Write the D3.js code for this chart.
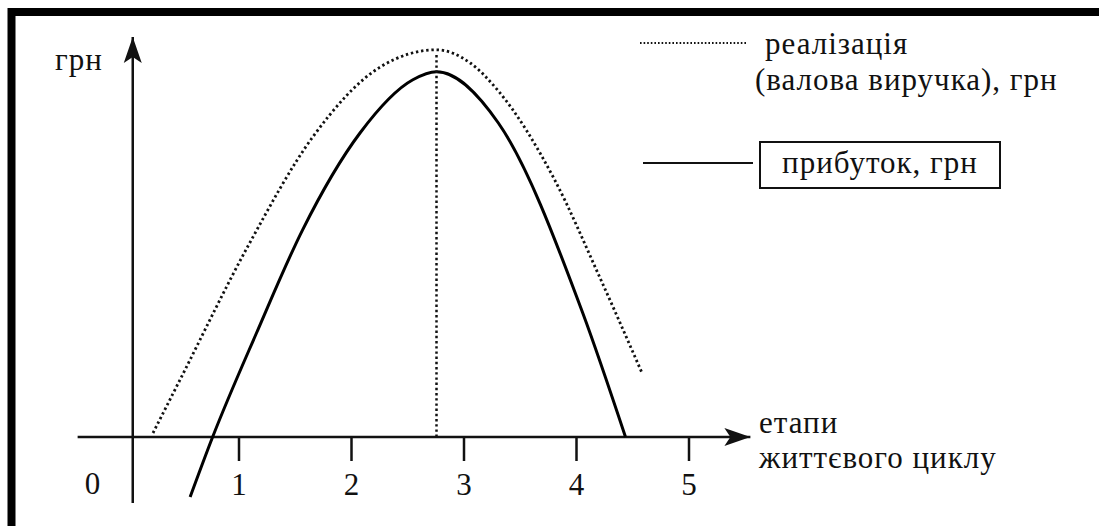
<!DOCTYPE html>
<html>
<head>
<meta charset="utf-8">
<script src="https://cdn.jsdelivr.net/npm/d3@7"></script>
<style>
  html, body { margin: 0; padding: 0; background: #fff; overflow: hidden; }
</style>
</head>
<body>
<div id="chart"></div>
<script>
// Stage of life cycle (x) vs. hryvnias (y, arbitrary units)
const stageTicks = [1, 2, 3, 4, 5];

// profit curve (solid)
const profitStage = [0.57, 0.77, 1.16, 1.57, 2.08, 2.55, 2.76, 3.31, 4.06, 4.44];
const profitValue = [-15, 0, 26, 51.8, 76, 89.3, 91.3, 78.5, 31, 0];

// sales / gross revenue curve (dotted)
const revenueStage = [0.24, 0.48, 1.08, 1.66, 2.26, 2.76, 3.06, 3.31, 3.81, 4.21, 4.59];
const revenueValue = [1, 14.3, 47.5, 75, 92.5, 96.8, 93.5, 86.5, 64.3, 40, 15.8];

const peakStage = 2.76;
const peakValue = 96;

const labels = {
  yTitle: "грн",
  xTitle: ["етапи", "життєвого циклу"],
  revenue: ["реалізація", "(валова виручка), грн"],
  profit: "прибуток, грн",
  zero: "0"
};

const width = 1099, height = 526;
const fontSize = 31;
const serif = "'Liberation Serif', 'DejaVu Serif', 'Times New Roman', Times, serif";

const svg = d3.select("#chart").append("svg")
  .attr("width", width)
  .attr("height", height)
  .style("font-family", serif);

// scales
const xScale = d3.scaleLinear().domain([0, 5]).range([126, 688.5]);
const yScale = d3.scaleLinear().domain([0, 100]).range([437, 37]);

// arrow head
svg.append("defs").append("marker")
  .attr("id", "arrow")
  .attr("markerUnits", "userSpaceOnUse")
  .attr("markerWidth", 30).attr("markerHeight", 24)
  .attr("viewBox", "-28 -12 30 24")
  .attr("refX", 0).attr("refY", 0)
  .attr("orient", "auto")
  .append("path")
  .attr("d", "M0,0 L-26,-9 L-20,0 L-26,9 Z")
  .attr("fill", "#111");

// frame (only top and left edges inside the picture)
svg.append("rect")
  .attr("x", 11.5).attr("y", 12)
  .attr("width", width + 40).attr("height", height + 40)
  .attr("fill", "none")
  .attr("stroke", "#000")
  .attr("stroke-width", 8);

// x axis ticks + labels
const xAxis = d3.axisBottom(xScale)
  .tickValues(stageTicks)
  .tickSizeInner(24)
  .tickSizeOuter(0)
  .tickPadding(12)
  .tickFormat(d3.format("d"));

const gx = svg.append("g")
  .attr("transform", `translate(0,${yScale(0)})`)
  .call(xAxis);
gx.attr("font-family", null).attr("font-size", null);
gx.select(".domain").remove();
gx.selectAll(".tick line").attr("stroke", "#111").attr("stroke-width", 2.5);
gx.selectAll(".tick text")
  .style("font-family", serif)
  .style("font-size", fontSize + "px")
  .attr("fill", "#111");

// axis lines with arrows
const yAxisAt = 0.06;
svg.append("line")
  .attr("x1", xScale(-0.43)).attr("x2", xScale(5.55))
  .attr("y1", yScale(0)).attr("y2", yScale(0))
  .attr("stroke", "#111").attr("stroke-width", 2.5)
  .attr("marker-end", "url(#arrow)");

svg.append("line")
  .attr("x1", xScale(yAxisAt)).attr("x2", xScale(yAxisAt))
  .attr("y1", yScale(-16.5)).attr("y2", yScale(100))
  .attr("stroke", "#111").attr("stroke-width", 2.5)
  .attr("marker-end", "url(#arrow)");

// curves
const line = d3.line()
  .x(d => xScale(d[0]))
  .y(d => yScale(d[1]))
  .curve(d3.curveMonotoneX);

const revenue = revenueStage.map((s, i) => [s, revenueValue[i]]);
const profit = profitStage.map((s, i) => [s, profitValue[i]]);

svg.append("path")
  .datum(revenue)
  .attr("d", line)
  .attr("fill", "none")
  .attr("stroke", "#111")
  .attr("stroke-width", 2.8)
  .attr("stroke-dasharray", "2.4 2.8");

svg.append("path")
  .datum(profit)
  .attr("d", line)
  .attr("fill", "none")
  .attr("stroke", "#000")
  .attr("stroke-width", 3);

// dotted vertical at the peak
svg.append("line")
  .attr("x1", xScale(peakStage)).attr("x2", xScale(peakStage))
  .attr("y1", yScale(0)).attr("y2", yScale(peakValue))
  .attr("stroke", "#111")
  .attr("stroke-width", 2.5)
  .attr("stroke-dasharray", "2.4 2.8");

// text helper
function addText(x, y, str, anchor) {
  return svg.append("text")
    .attr("x", x).attr("y", y)
    .attr("text-anchor", anchor || "start")
    .attr("fill", "#111")
    .style("font-size", fontSize + "px")
    .style("letter-spacing", "1px")
    .text(str);
}

addText(xScale(0) - 33, yScale(0) + 57, labels.zero, "middle");
addText(55, 70, labels.yTitle);
addText(759, 433, labels.xTitle[0]);
addText(759, 468, labels.xTitle[1]);

// legend: revenue
svg.append("line")
  .attr("x1", 640).attr("x2", 747)
  .attr("y1", 43).attr("y2", 43)
  .attr("stroke", "#111").attr("stroke-width", 1.8)
  .attr("stroke-dasharray", "1.6 2");
addText(765, 54, labels.revenue[0]);
addText(755, 90, labels.revenue[1]);

// legend: profit
svg.append("line")
  .attr("x1", 643).attr("x2", 753)
  .attr("y1", 163).attr("y2", 163)
  .attr("stroke", "#111").attr("stroke-width", 2.2);
svg.append("rect")
  .attr("x", 760).attr("y", 142)
  .attr("width", 240).attr("height", 46)
  .attr("fill", "none")
  .attr("stroke", "#111").attr("stroke-width", 2);
addText(880, 173, labels.profit, "middle");
</script>
</body>
</html>
